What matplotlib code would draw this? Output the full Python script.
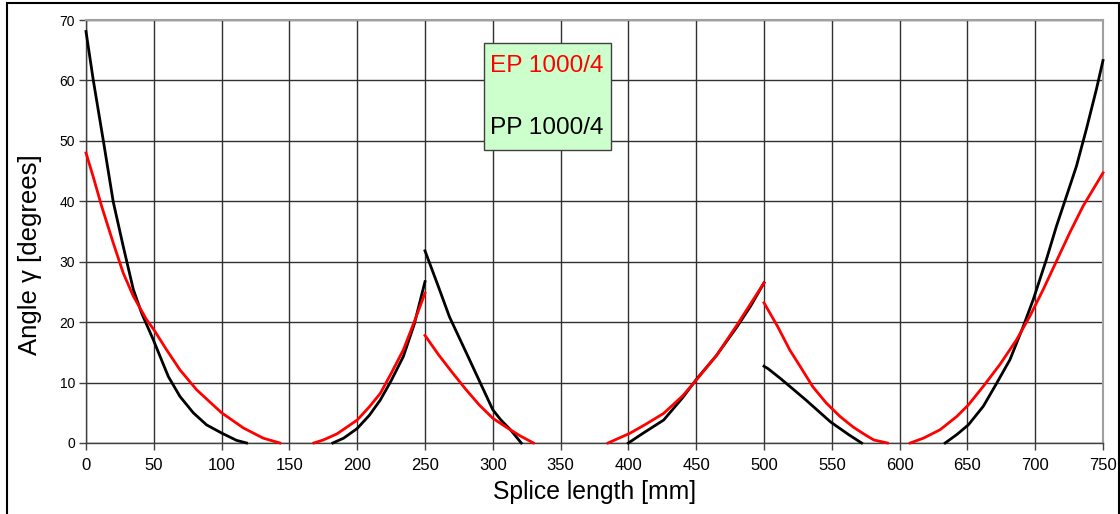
import matplotlib
matplotlib.use("Agg")
import matplotlib.pyplot as plt
from matplotlib.patches import Rectangle

plt.rcParams['font.family'] = ['Liberation Sans', 'DejaVu Sans']

# PP 1000/4 (black) segments
pp_x = [
    [0, 5.4, 12.8, 20.1, 27.5, 34.9, 41, 49.6, 60.7, 69.3, 79.1, 88.9, 100, 111, 118.4],
    [182, 190, 200, 209, 217, 225, 234, 242, 250],
    [250, 260, 268, 283, 300, 306, 313, 321],
    [400, 410, 426, 440, 450, 465, 480, 490, 500],
    [500, 503, 512, 531, 549, 563, 572],
    [633.6, 642.2, 650.7, 661.8, 671.6, 681.4, 691.2, 698.5, 708.3, 715.7, 723, 730.4, 737.7, 745.1, 750],
]
pp_y = [
    [68.1, 60, 50, 39.9, 32.5, 25.4, 21.5, 17.1, 11, 7.7, 5.0, 3.0, 1.65, 0.44, 0],
    [0, 0.8, 2.4, 4.6, 7.1, 10.3, 14.3, 19.6, 26.7],
    [31.8, 25.8, 20.9, 13.7, 5.5, 3.8, 2.2, 0],
    [0, 1.5, 3.8, 7.5, 10.5, 14.5, 19.2, 22.6, 26.5],
    [12.7, 12.3, 10.7, 7.1, 3.5, 1.3, 0],
    [0, 1.4, 3.0, 6.1, 9.9, 13.8, 19.3, 23.7, 30.4, 35.9, 40.8, 45.8, 51.9, 58.5, 63.3],
]

# EP 1000/4 (red) segments
ep_x = [
    [0, 5.4, 11.5, 20.1, 27.5, 34.9, 44.7, 49.9, 59.5, 69.3, 81.6, 100, 116, 130.7, 143],
    [168, 175, 185, 200, 209, 217, 225, 234, 242, 250],
    [250, 260, 270, 280, 290, 300, 310, 320, 330],
    [385, 392, 401, 412, 426, 440, 450, 465, 480, 490, 500],
    [500, 510, 519, 528, 536, 546, 556, 566, 575, 581, 591],
    [607.8, 617.6, 629.9, 642.2, 650.7, 661.8, 674, 686.3, 696.1, 705.9, 715.7, 725.5, 735.3, 750],
]
ep_y = [
    [48, 44, 39.2, 33.1, 28.1, 24.3, 20.4, 18.8, 15.4, 12.1, 8.8, 5.0, 2.5, 0.8, 0],
    [0, 0.5, 1.5, 3.8, 6.0, 8.2, 11.5, 15.4, 20, 24.8],
    [17.8, 14.6, 11.7, 8.9, 6.3, 4.1, 2.6, 1.2, 0],
    [0, 0.7, 1.6, 3, 4.9, 7.8, 10.4, 14.5, 19.5, 23, 26.5],
    [23.2, 19.3, 15.4, 12.2, 9.3, 6.6, 4.4, 2.6, 1.3, 0.5, 0],
    [0, 0.8, 2.2, 4.4, 6.3, 9.4, 13, 17.1, 21, 25.4, 30.1, 34.8, 39.2, 44.7],
]

x_ticks = list(range(0, 751, 50))
y_ticks = list(range(0, 71, 10))

fig = plt.figure(figsize=(11.2, 5.14), dpi=100)
ax = fig.add_axes([86/1120, 1-443/514, (1103-86)/1120, (443-20)/514])

ax.set_xlim(0, 750)
ax.set_ylim(0, 70)
ax.set_xticks(x_ticks)
ax.set_yticks(y_ticks)
ax.grid(True, color='#303030', linewidth=1.0, zorder=1)
ax.set_axisbelow(True)

for xs, ys in zip(pp_x, pp_y):
    ax.plot(xs, ys, color='black', linewidth=2.0, zorder=3, clip_on=False,
            solid_joinstyle='round')
for xs, ys in zip(ep_x, ep_y):
    ax.plot(xs, ys, color='#ff0000', linewidth=2.0, zorder=3, clip_on=False,
            solid_joinstyle='round')

for s in ['left', 'bottom']:
    ax.spines[s].set_color('#404040')
    ax.spines[s].set_linewidth(1.0)
for s in ['top', 'right']:
    ax.spines[s].set_color('#a0a0a0')
    ax.spines[s].set_linewidth(1.5)

ax.tick_params(axis='x', direction='out', length=5, width=1, color='#404040', labelsize=12, pad=6)
ax.tick_params(axis='y', direction='out', length=5, width=1, color='#404040', labelsize=10, pad=3)

ax.set_xlabel('Splice length [mm]', fontsize=17.8, labelpad=5)
ax.set_ylabel('Angle γ [degrees]', fontsize=18.5)
ax.yaxis.set_label_coords(-0.043, 0.445)

# legend-like text box
box = Rectangle((484/1120, 1-150/514), (611-484)/1120, (150-43)/514, transform=fig.transFigure,
                facecolor='#ccffcc', edgecolor='#404040', linewidth=1.0, zorder=5)
fig.patches.append(box)
fig.text(490/1120, 1-66/514, 'EP 1000/4', color='#ff0000', fontsize=17.6, va='center', ha='left', zorder=6)
fig.text(490/1120, 1-128/514, 'PP 1000/4', color='black', fontsize=17.6, va='center', ha='left', zorder=6)

# outer frame
frame = Rectangle((7/1120, -0.01), (1119-7)/1120, (1-3/514) + 0.01, transform=fig.transFigure,
                  facecolor='none', edgecolor='black', linewidth=1.5)
fig.patches.append(frame)

fig.savefig('out.png', dpi=100)
